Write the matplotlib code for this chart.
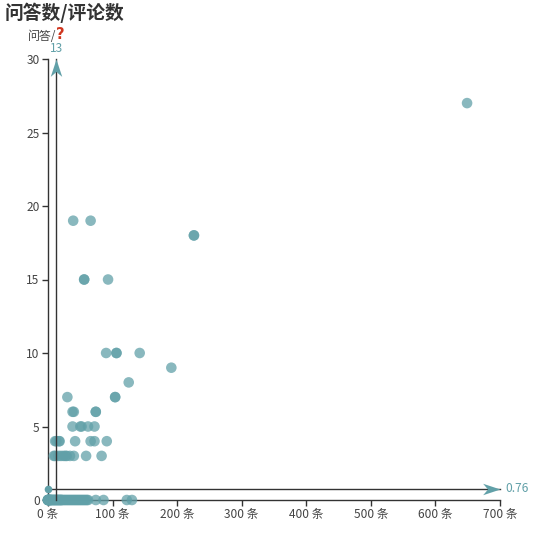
import matplotlib
matplotlib.use("Agg")
import matplotlib.pyplot as plt
from matplotlib.path import Path

plt.rcParams['font.family'] = ['Noto Sans CJK SC', 'DejaVu Sans']

# 数据：评论数 (x) 与 问答数 (y)
zero_x = [0, 0, 0, 0, 0, 0, 1, 1, 2, 2, 3, 3, 4, 4, 5, 6, 7, 8, 9, 10, 11, 12,
          13, 14, 15, 16, 17, 18, 19, 20, 21, 22, 24, 26, 28, 30, 32, 34, 36,
          38, 40, 42, 44, 46, 48, 50, 52, 54, 56, 58, 60, 62, 74, 86, 122, 130]
zero_y = [0] * len(zero_x)

pts_x = [649, 226, 226, 39, 66, 56, 56, 93, 90, 106, 106, 142, 191, 125,
         104, 104, 30, 38, 40, 74, 74, 38, 50, 52, 62, 72,
         11, 13, 17, 18, 42, 66, 72, 91,
         9, 11, 16, 20, 24, 27, 29, 34, 40, 59, 83]
pts_y = [27, 18, 18, 19, 19, 15, 15, 15, 10, 10, 10, 10, 9, 8,
         7, 7, 7, 6, 6, 6, 6, 5, 5, 5, 5, 5,
         4, 4, 4, 4, 4, 4, 4, 4,
         3, 3, 3, 3, 3, 3, 3, 3, 3, 3, 3]

x_vals = zero_x + pts_x
y_vals = zero_y + pts_y

avg_x = 13
avg_y = 0.76
x_ticks = [0, 100, 200, 300, 400, 500, 600, 700]
y_ticks = [0, 5, 10, 15, 20, 25, 30]

teal = '#61a0a8'
dark = '#333333'

fig = plt.figure(figsize=(5.38, 5.38), dpi=100)
ax = fig.add_axes([48 / 538, 38 / 538, 452 / 538, 441 / 538])

ax.scatter(x_vals, y_vals, s=58, color=teal, alpha=0.75, edgecolors='none',
           clip_on=False, zorder=3)

ax.set_xlim(0, 700)
ax.set_ylim(0, 30)
ax.set_xticks(x_ticks)
ax.set_xticklabels([f'{t} 条' for t in x_ticks])
ax.set_yticks(y_ticks)
for s in ['top', 'right']:
    ax.spines[s].set_visible(False)
for s in ['left', 'bottom']:
    ax.spines[s].set_color(dark)
    ax.spines[s].set_linewidth(1)
ax.tick_params(colors=dark, labelcolor='#444444', length=4, width=1,
               labelsize=8.6, pad=2)

# 平均线 (markLine)
arrow_right = Path([(0, 0), (-1, 0.33), (-0.72, 0), (-1, -0.33), (0, 0)],
                   [Path.MOVETO, Path.LINETO, Path.LINETO, Path.LINETO, Path.CLOSEPOLY])
arrow_up = Path([(0, 0), (0.33, -1), (0, -0.72), (-0.33, -1), (0, 0)],
                [Path.MOVETO, Path.LINETO, Path.LINETO, Path.LINETO, Path.CLOSEPOLY])

ax.plot([0, 700], [avg_y, avg_y], color=dark, lw=1, clip_on=False, zorder=4)
ax.plot([avg_x, avg_x], [0, 30], color=dark, lw=1, clip_on=False, zorder=4)
ax.plot([0], [avg_y], 'o', ms=5.5, color=teal, mec='none', clip_on=False, zorder=5)
ax.plot([700], [avg_y], marker=arrow_right, ms=25, color=teal, mec='none',
        clip_on=False, zorder=5)
ax.plot([avg_x], [30], marker=arrow_up, ms=25, color=teal, mec='none',
        clip_on=False, zorder=5)
ax.annotate(f'{avg_y}', (700, avg_y), xytext=(4, 0), textcoords='offset points',
            ha='left', va='center', color=teal, fontsize=8.6)
ax.annotate(f'{avg_x}', (avg_x, 30), xytext=(0, 3), textcoords='offset points',
            ha='center', va='bottom', color=teal, fontsize=8.6)

# 标题与轴名
fig.text(5 / 538, 1 - 3 / 538, '问答数/评论数', ha='left', va='top',
         fontsize=13.5, fontweight='bold', color='#333333')
fig.text(28 / 538, 1 - 40 / 538, '问答/', ha='left', va='baseline',
         fontsize=8.6, color='#444444')
fig.text(56 / 538, 1 - 39 / 538, '?', ha='left', va='baseline',
         fontsize=10.5, fontweight='bold', color='#d0361f', family='DejaVu Sans')

fig.savefig('out.png', dpi=100)
